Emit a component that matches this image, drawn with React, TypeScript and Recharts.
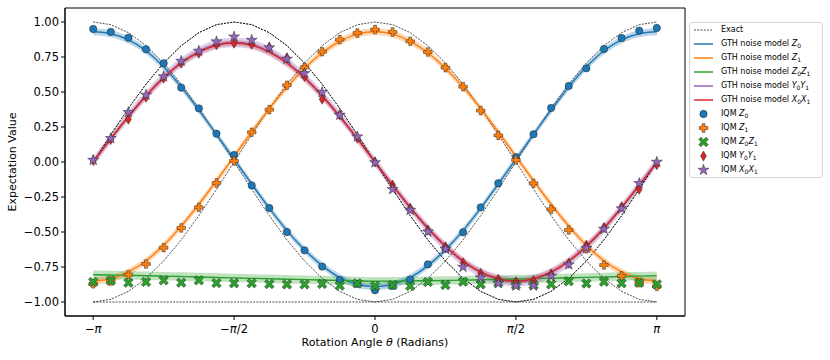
import React from 'react';
import { ComposedChart, Line, Area, Scatter, XAxis, YAxis, ReferenceArea } from 'recharts';

const PI = Math.PI;

// rotation angle grid, in units of pi/16
const THETA_SIXTEENTHS = [-16, -15, -14, -13, -12, -11, -10, -9, -8, -7, -6, -5, -4, -3, -2, -1, 0, 1, 2, 3, 4, 5, 6, 7, 8, 9, 10, 11, 12, 13, 14, 15, 16];

const X_TICKS = [-PI, -PI / 2, 0, PI / 2, PI];
const X_TICK_LABELS = ['−π', '−π/2', '0', 'π/2', 'π'];
const Y_TICKS = [-1, -0.75, -0.5, -0.25, 0, 0.25, 0.5, 0.75, 1];

// Exact values
const EXACT_Z0 = [1, 0.981, 0.924, 0.831, 0.707, 0.556, 0.383, 0.195, 0, -0.195, -0.383, -0.556, -0.707, -0.831, -0.924, -0.981, -1, -0.981, -0.924, -0.831, -0.707, -0.556, -0.383, -0.195, 0, 0.195, 0.383, 0.556, 0.707, 0.831, 0.924, 0.981, 1];
const EXACT_Z1 = [-1, -0.981, -0.924, -0.831, -0.707, -0.556, -0.383, -0.195, 0, 0.195, 0.383, 0.556, 0.707, 0.831, 0.924, 0.981, 1, 0.981, 0.924, 0.831, 0.707, 0.556, 0.383, 0.195, 0, -0.195, -0.383, -0.556, -0.707, -0.831, -0.924, -0.981, -1];
const EXACT_Z0Z1 = [-1, -1, -1, -1, -1, -1, -1, -1, -1, -1, -1, -1, -1, -1, -1, -1, -1, -1, -1, -1, -1, -1, -1, -1, -1, -1, -1, -1, -1, -1, -1, -1, -1];
const EXACT_Y0Y1 = [0, 0.195, 0.383, 0.556, 0.707, 0.831, 0.924, 0.981, 1, 0.981, 0.924, 0.831, 0.707, 0.556, 0.383, 0.195, 0, -0.195, -0.383, -0.556, -0.707, -0.831, -0.924, -0.981, -1, -0.981, -0.924, -0.831, -0.707, -0.556, -0.383, -0.195, 0];
const EXACT_X0X1 = [0, 0.195, 0.383, 0.556, 0.707, 0.831, 0.924, 0.981, 1, 0.981, 0.924, 0.831, 0.707, 0.556, 0.383, 0.195, 0, -0.195, -0.383, -0.556, -0.707, -0.831, -0.924, -0.981, -1, -0.981, -0.924, -0.831, -0.707, -0.556, -0.383, -0.195, 0];

// GTH noise model
const MODEL_Z0 = [0.93, 0.916, 0.872, 0.795, 0.68, 0.535, 0.37, 0.197, 0.02, -0.157, -0.33, -0.49, -0.627, -0.74, -0.825, -0.875, -0.89, -0.875, -0.825, -0.74, -0.627, -0.49, -0.33, -0.157, 0.02, 0.197, 0.37, 0.535, 0.68, 0.795, 0.872, 0.916, 0.93];
const MODEL_Z1 = [-0.85, -0.834, -0.785, -0.705, -0.595, -0.458, -0.302, -0.134, 0.04, 0.214, 0.381, 0.535, 0.669, 0.78, 0.862, 0.913, 0.93, 0.913, 0.862, 0.78, 0.669, 0.535, 0.381, 0.214, 0.04, -0.134, -0.302, -0.458, -0.595, -0.705, -0.785, -0.834, -0.85];
const MODEL_Z0Z1 = [-0.805, -0.807, -0.81, -0.812, -0.815, -0.818, -0.821, -0.825, -0.828, -0.831, -0.834, -0.837, -0.84, -0.843, -0.846, -0.849, -0.852, -0.851, -0.849, -0.848, -0.846, -0.844, -0.841, -0.839, -0.836, -0.833, -0.83, -0.827, -0.824, -0.821, -0.818, -0.815, -0.812];
const MODEL_Y0Y1 = [0, 0.167, 0.327, 0.475, 0.605, 0.711, 0.79, 0.839, 0.855, 0.839, 0.79, 0.711, 0.605, 0.475, 0.327, 0.167, 0, -0.167, -0.327, -0.475, -0.605, -0.711, -0.79, -0.839, -0.855, -0.839, -0.79, -0.711, -0.605, -0.475, -0.327, -0.167, 0];
const MODEL_X0X1 = [0, 0.166, 0.325, 0.472, 0.601, 0.707, 0.785, 0.834, 0.85, 0.834, 0.785, 0.707, 0.601, 0.472, 0.325, 0.166, 0, -0.166, -0.325, -0.472, -0.601, -0.707, -0.785, -0.834, -0.85, -0.834, -0.785, -0.707, -0.601, -0.472, -0.325, -0.166, 0];

// model spread (half width of shaded band)
const SPREAD_Z0 = 0.025;
const SPREAD_Z1 = 0.025;
const SPREAD_Z0Z1 = 0.03;
const SPREAD_Y0Y1 = 0.035;
const SPREAD_X0X1 = 0.02;

// IQM measurements
const IQM_Z0 = [0.95, 0.929, 0.888, 0.805, 0.705, 0.531, 0.383, 0.202, 0.05, -0.167, -0.329, -0.5, -0.631, -0.747, -0.843, -0.87, -0.916, -0.885, -0.84, -0.731, -0.62, -0.502, -0.324, -0.152, 0.035, 0.198, 0.386, 0.543, 0.669, 0.807, 0.886, 0.938, 0.957];
const IQM_Z1 = [-0.87, -0.85, -0.805, -0.729, -0.612, -0.471, -0.324, -0.15, 0.007, 0.212, 0.374, 0.548, 0.676, 0.788, 0.874, 0.921, 0.946, 0.929, 0.862, 0.786, 0.674, 0.538, 0.367, 0.19, 0.014, -0.152, -0.338, -0.486, -0.62, -0.736, -0.814, -0.862, -0.888];
const IQM_Z0Z1 = [-0.857, -0.848, -0.862, -0.857, -0.845, -0.862, -0.845, -0.865, -0.866, -0.866, -0.872, -0.874, -0.874, -0.871, -0.883, -0.867, -0.886, -0.879, -0.886, -0.857, -0.879, -0.855, -0.874, -0.862, -0.879, -0.879, -0.874, -0.852, -0.868, -0.855, -0.866, -0.862, -0.874];
const IQM_Y0Y1 = [0.01, 0.16, 0.305, 0.462, 0.598, 0.705, 0.776, 0.838, 0.848, 0.841, 0.82, 0.745, 0.61, 0.448, 0.336, 0.17, 0.0, -0.164, -0.33, -0.486, -0.605, -0.719, -0.795, -0.838, -0.855, -0.848, -0.8, -0.724, -0.593, -0.467, -0.319, -0.195, -0.02];
const IQM_X0X1 = [0.014, 0.169, 0.355, 0.479, 0.61, 0.721, 0.793, 0.86, 0.895, 0.871, 0.817, 0.736, 0.633, 0.498, 0.336, 0.181, -0.004, -0.195, -0.343, -0.498, -0.621, -0.75, -0.825, -0.867, -0.884, -0.884, -0.815, -0.733, -0.615, -0.479, -0.333, -0.152, 0.0];

const C_BLUE = '#1f77b4';
const C_ORANGE = '#ff7f0e';
const C_GREEN = '#2ca02c';
const C_RED = '#d62728';
const C_PURPLE = '#9467bd';
const FONT = '"DejaVu Sans", Verdana, sans-serif';

const data = THETA_SIXTEENTHS.map((n, i) => ({
  theta: (n * PI) / 16,
  eZ0: EXACT_Z0[i],
  eZ1: EXACT_Z1[i],
  eZZ: EXACT_Z0Z1[i],
  eYY: EXACT_Y0Y1[i],
  eXX: EXACT_X0X1[i],
  mZ0: MODEL_Z0[i],
  mZ1: MODEL_Z1[i],
  mZZ: MODEL_Z0Z1[i],
  mYY: MODEL_Y0Y1[i],
  mXX: MODEL_X0X1[i],
  bZ0: [MODEL_Z0[i] - SPREAD_Z0, MODEL_Z0[i] + SPREAD_Z0],
  bZ1: [MODEL_Z1[i] - SPREAD_Z1, MODEL_Z1[i] + SPREAD_Z1],
  bZZ: [MODEL_Z0Z1[i] - SPREAD_Z0Z1, MODEL_Z0Z1[i] + SPREAD_Z0Z1],
  bYY: [MODEL_Y0Y1[i] - SPREAD_Y0Y1, MODEL_Y0Y1[i] + SPREAD_Y0Y1],
  bXX: [MODEL_X0X1[i] - SPREAD_X0X1, MODEL_X0X1[i] + SPREAD_X0X1],
  iZ0: IQM_Z0[i],
  iZ1: IQM_Z1[i],
  iZZ: IQM_Z0Z1[i],
  iYY: IQM_Y0Y1[i],
  iXX: IQM_X0X1[i],
}));

// ---------- marker paths ----------
const polyPath = (pts: number[][], cx: number, cy: number) =>
  pts.map((p, i) => (i === 0 ? 'M' : 'L') + (cx + p[0]).toFixed(2) + ',' + (cy + p[1]).toFixed(2)).join('') + 'Z';

const plusPts = (h: number, w: number) => [
  [-w, -h], [w, -h], [w, -w], [h, -w], [h, w], [w, w], [w, h], [-w, h], [-w, w], [-h, w], [-h, -w], [-w, -w],
];
const rot45 = (pts: number[][]) => {
  const c = Math.SQRT1_2;
  return pts.map(([x, y]) => [x * c - y * c, x * c + y * c]);
};
const starPts = (R: number) => {
  const pts: number[][] = [];
  for (let i = 0; i < 10; i++) {
    const r = i % 2 === 0 ? R : R * 0.382;
    const a = -PI / 2 + (i * PI) / 5;
    pts.push([r * Math.cos(a), r * Math.sin(a)]);
  }
  return pts;
};
const EDGE = { stroke: '#1a1a1a', strokeOpacity: 0.75, strokeWidth: 0.6 };

const markCircle = (cx: number, cy: number, color: string) => <circle cx={cx} cy={cy} r={3.7} fill={color} {...EDGE} />;
const markPlus = (cx: number, cy: number, color: string) => <path d={polyPath(plusPts(4.3, 1.5), cx, cy)} fill={color} {...EDGE} />;
const markX = (cx: number, cy: number, color: string) => <path d={polyPath(rot45(plusPts(5.2, 1.55)), cx, cy)} fill={color} {...EDGE} />;
const markDiamond = (cx: number, cy: number, color: string) => (
  <path d={polyPath([[0, -5], [2.9, 0], [0, 5], [-2.9, 0]], cx, cy)} fill={color} {...EDGE} />
);
const markStar = (cx: number, cy: number, color: string) => <path d={polyPath(starPts(5.8), cx, cy)} fill={color} {...EDGE} />;

const shapeOf = (fn: (cx: number, cy: number, c: string) => React.ReactElement, color: string) => (props: any) => {
  if (props.cx == null || props.cy == null) return <g />;
  return fn(props.cx, props.cy, color);
};

const XTick = (props: any) => {
  const { x, y, payload } = props;
  const idx = X_TICKS.findIndex((t) => Math.abs(t - payload.value) < 1e-6);
  const label = idx >= 0 ? X_TICK_LABELS[idx] : '';
  const parts = label.split(/(π)/).filter((s) => s.length);
  return (
    <text x={x} y={y + 11} textAnchor="middle" fontFamily={FONT} fontSize={11.5} fill="#000">
      {parts.map((p, i) => (p === 'π' ? <tspan key={i} fontStyle="italic">π</tspan> : <tspan key={i}>{p}</tspan>))}
    </text>
  );
};

const yFmt = (v: number) => (v < 0 ? '−' : '') + Math.abs(v).toFixed(2);

const Sub = ({ base, sub }: { base: string; sub: string }) => (
  <span>
    <i>{base}</i>
    <span style={{ fontSize: '0.75em', position: 'relative', top: '0.3em' }}>{sub}</span>
  </span>
);

const legendRows: { icon: React.ReactNode; label: React.ReactNode }[] = [
  { icon: <line x1={1} x2={20} y1={7} y2={7} stroke="#000" strokeWidth={0.7} strokeDasharray="2 1.2" />, label: 'Exact' },
  { icon: <line x1={1} x2={20} y1={7} y2={7} stroke={C_BLUE} strokeWidth={1.5} />, label: <>GTH noise model <Sub base="Z" sub="0" /></> },
  { icon: <line x1={1} x2={20} y1={7} y2={7} stroke={C_ORANGE} strokeWidth={1.5} />, label: <>GTH noise model <Sub base="Z" sub="1" /></> },
  { icon: <line x1={1} x2={20} y1={7} y2={7} stroke={C_GREEN} strokeWidth={1.5} />, label: <>GTH noise model <Sub base="Z" sub="0" /><Sub base="Z" sub="1" /></> },
  { icon: <line x1={1} x2={20} y1={7} y2={7} stroke={C_PURPLE} strokeWidth={1.5} />, label: <>GTH noise model <Sub base="Y" sub="0" /><Sub base="Y" sub="1" /></> },
  { icon: <line x1={1} x2={20} y1={7} y2={7} stroke={C_RED} strokeWidth={1.5} />, label: <>GTH noise model <Sub base="X" sub="0" /><Sub base="X" sub="1" /></> },
  { icon: markCircle(10.5, 7, C_BLUE), label: <>IQM <Sub base="Z" sub="0" /></> },
  { icon: markPlus(10.5, 7, C_ORANGE), label: <>IQM <Sub base="Z" sub="1" /></> },
  { icon: markX(10.5, 7, C_GREEN), label: <>IQM <Sub base="Z" sub="0" /><Sub base="Z" sub="1" /></> },
  { icon: markDiamond(10.5, 7, C_RED), label: <>IQM <Sub base="Y" sub="0" /><Sub base="Y" sub="1" /></> },
  { icon: markStar(10.5, 7, C_PURPLE), label: <>IQM <Sub base="X" sub="0" /><Sub base="X" sub="1" /></> },
];

const X_DOMAIN = [-PI * 1.1, PI * 1.1];
const Y_DOMAIN = [-1.1, 1.1];

export default function App() {
  return (
    <div style={{ position: 'absolute', left: 0, top: 0, width: 830, height: 360, background: '#fff', fontFamily: FONT }}>
      <ComposedChart width={830} height={360} data={data} margin={{ top: 8, right: 145, left: 0, bottom: 0 }}>
        <XAxis
          dataKey="theta"
          type="number"
          domain={X_DOMAIN}
          ticks={X_TICKS}
          interval={0}
          tick={<XTick />}
          tickSize={4}
          height={44}
          stroke="#000"
          allowDataOverflow
        />
        <YAxis
          type="number"
          domain={Y_DOMAIN}
          ticks={Y_TICKS}
          interval={0}
          tickFormatter={yFmt}
          tickSize={4}
          tickMargin={2}
          width={65}
          stroke="#000"
          tick={{ fill: '#000', fontSize: 11.5, fontFamily: FONT }}
          allowDataOverflow
        />

        <Line dataKey="eZ0" type="linear" stroke="#000" strokeWidth={0.7} strokeDasharray="2 1.2" dot={false} activeDot={false} isAnimationActive={false} />
        <Line dataKey="eZ1" type="linear" stroke="#000" strokeWidth={0.7} strokeDasharray="2 1.2" dot={false} activeDot={false} isAnimationActive={false} />
        <Line dataKey="eZZ" type="linear" stroke="#000" strokeWidth={0.7} strokeDasharray="2 1.2" dot={false} activeDot={false} isAnimationActive={false} />
        <Line dataKey="eYY" type="linear" stroke="#000" strokeWidth={0.7} strokeDasharray="2 1.2" dot={false} activeDot={false} isAnimationActive={false} />
        <Line dataKey="eXX" type="linear" stroke="#000" strokeWidth={0.7} strokeDasharray="2 1.2" dot={false} activeDot={false} isAnimationActive={false} />

        <Area dataKey="bZ0" type="monotone" stroke="none" fill={C_BLUE} fillOpacity={0.3} isAnimationActive={false} activeDot={false} />
        <Line dataKey="mZ0" type="monotone" stroke={C_BLUE} strokeWidth={1.4} dot={false} activeDot={false} isAnimationActive={false} />
        <Area dataKey="bZ1" type="monotone" stroke="none" fill={C_ORANGE} fillOpacity={0.3} isAnimationActive={false} activeDot={false} />
        <Line dataKey="mZ1" type="monotone" stroke={C_ORANGE} strokeWidth={1.4} dot={false} activeDot={false} isAnimationActive={false} />
        <Area dataKey="bZZ" type="monotone" stroke="none" fill={C_GREEN} fillOpacity={0.3} isAnimationActive={false} activeDot={false} />
        <Line dataKey="mZZ" type="monotone" stroke={C_GREEN} strokeWidth={1.4} dot={false} activeDot={false} isAnimationActive={false} />
        <Area dataKey="bYY" type="monotone" stroke="none" fill={C_PURPLE} fillOpacity={0.3} isAnimationActive={false} activeDot={false} />
        <Line dataKey="mYY" type="monotone" stroke={C_PURPLE} strokeWidth={1.4} dot={false} activeDot={false} isAnimationActive={false} />
        <Area dataKey="bXX" type="monotone" stroke="none" fill={C_RED} fillOpacity={0.3} isAnimationActive={false} activeDot={false} />
        <Line dataKey="mXX" type="monotone" stroke={C_RED} strokeWidth={1.4} dot={false} activeDot={false} isAnimationActive={false} />

        <Scatter dataKey="iZ0" shape={shapeOf(markCircle, C_BLUE)} isAnimationActive={false} />
        <Scatter dataKey="iZ1" shape={shapeOf(markPlus, C_ORANGE)} isAnimationActive={false} />
        <Scatter dataKey="iZZ" shape={shapeOf(markX, C_GREEN)} isAnimationActive={false} />
        <Scatter dataKey="iYY" shape={shapeOf(markDiamond, C_RED)} isAnimationActive={false} />
        <Scatter dataKey="iXX" shape={shapeOf(markStar, C_PURPLE)} isAnimationActive={false} />

        <ReferenceArea
          x1={X_DOMAIN[0]}
          x2={X_DOMAIN[1]}
          y1={Y_DOMAIN[0]}
          y2={Y_DOMAIN[1]}
          fill="none"
          fillOpacity={0}
          stroke="#000"
          strokeWidth={1}
          ifOverflow="visible"
        />
      </ComposedChart>

      <div
        style={{
          position: 'absolute',
          left: 375,
          top: 336,
          transform: 'translateX(-50%)',
          fontSize: 11,
          whiteSpace: 'nowrap',
          color: '#000',
        }}
      >
        Rotation Angle <i>θ</i> (Radians)
      </div>
      <div
        style={{
          position: 'absolute',
          left: 12,
          top: 162,
          transform: 'translate(-50%, -50%) rotate(-90deg)',
          fontSize: 11,
          whiteSpace: 'nowrap',
          color: '#000',
        }}
      >
        Expectation Value
      </div>

      <div
        style={{
          position: 'absolute',
          left: 689,
          top: 22,
          width: 132,
          height: 154,
          border: '1px solid #d4d4d4',
          borderRadius: 3,
          background: '#fff',
          fontSize: 8,
          color: '#000',
        }}
      >
        {legendRows.map((r, i) => (
          <div key={i} style={{ height: 14, display: 'flex', alignItems: 'center', whiteSpace: 'nowrap' }}>
            <svg width={28} height={14} style={{ marginLeft: 3, flex: 'none' }}>
              {r.icon}
            </svg>
            <span style={{ lineHeight: '14px' }}>{r.label}</span>
          </div>
        ))}
      </div>
    </div>
  );
}
